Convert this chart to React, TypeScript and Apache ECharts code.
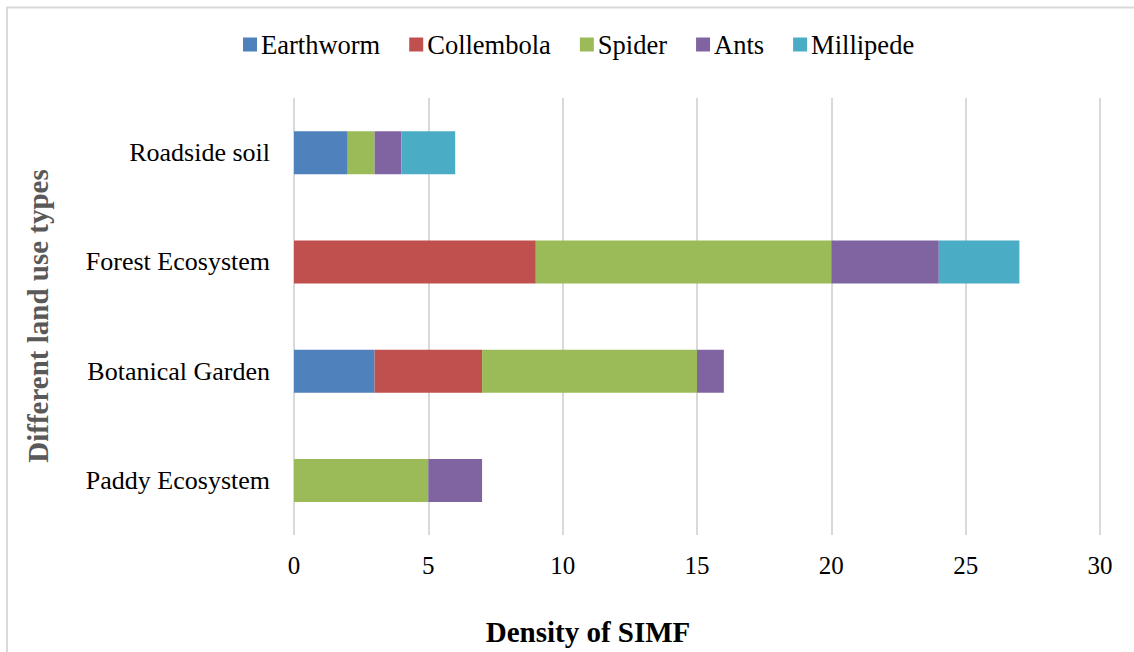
import React, { useEffect, useRef } from "react";
import * as echarts from "echarts";

const categories = ["Paddy Ecosystem", "Botanical Garden", "Forest Ecosystem", "Roadside soil"];
const seriesNames = ["Earthworm", "Collembola", "Spider", "Ants", "Millipede"];
const earthworm = [0, 3, 0, 2];
const collembola = [0, 4, 9, 0];
const spider = [5, 8, 11, 1];
const ants = [2, 1, 4, 1];
const millipede = [0, 0, 3, 2];
const colors = ["#4f81bd", "#c0504d", "#9bbb59", "#8064a2", "#4bacc6"];
const xTicks = { min: 0, max: 30, interval: 5 };

const FONT = "'Liberation Serif', 'Times New Roman', serif";

export default function App() {
  const ref = useRef<HTMLDivElement>(null);
  useEffect(() => {
    if (!ref.current) return;
    const chart = echarts.init(ref.current, undefined, { renderer: "svg" });
    const values = [earthworm, collembola, spider, ants, millipede];
    chart.setOption({
      animation: false,
      backgroundColor: "#ffffff",
      textStyle: { fontFamily: FONT },
      legend: {
        left: 238,
        top: 26,
        itemWidth: 14,
        itemHeight: 14,
        itemGap: 29,
        icon: "rect",
        textStyle: { fontFamily: FONT, fontSize: 26.5, color: "#000", padding: [0, 0, 0, -1] },
        data: seriesNames,
      },
      grid: { left: 294, right: 34, top: 98, bottom: 117, containLabel: false },
      xAxis: {
        type: "value",
        min: xTicks.min,
        max: xTicks.max,
        interval: xTicks.interval,
        axisLine: { show: false },
        axisTick: { show: false },
        splitLine: { show: true, lineStyle: { color: "#d9d9d9", width: 2 } },
        axisLabel: { fontFamily: FONT, fontSize: 25, color: "#000", margin: 18 },
      },
      yAxis: {
        type: "category",
        data: categories,
        axisLine: { show: false },
        axisTick: { show: false },
        axisLabel: { fontFamily: FONT, fontSize: 26, color: "#000", margin: 24 },
      },
      graphic: [
        {
          type: "rect",
          shape: { x: 7, y: 7.5, width: 1300, height: 800 },
          style: { fill: "none", stroke: "#d9d9d9", lineWidth: 2 },
          silent: true,
        },
        {
          type: "text",
          x: 588,
          y: 632,
          style: {
            text: "Density of SIMF",
            fontFamily: FONT,
            fontSize: 29,
            fontWeight: "bold",
            fill: "#000",
            align: "center",
            verticalAlign: "middle",
          },
        },
        {
          type: "text",
          x: 38,
          y: 316,
          rotation: Math.PI / 2,
          style: {
            text: "Different land use types",
            fontFamily: FONT,
            fontSize: 29,
            fontWeight: "bold",
            fill: "#595959",
            align: "center",
            verticalAlign: "middle",
          },
        },
      ],
      series: seriesNames.map((name, i) => ({
        name,
        type: "bar",
        stack: "total",
        barWidth: 43,
        itemStyle: { color: colors[i] },
        data: values[i],
      })),
    });
    return () => chart.dispose();
  }, []);
  return (
    <div
      ref={ref}
      style={{ position: "absolute", left: 0, top: 0, width: 1134, height: 652 }}
    />
  );
}
